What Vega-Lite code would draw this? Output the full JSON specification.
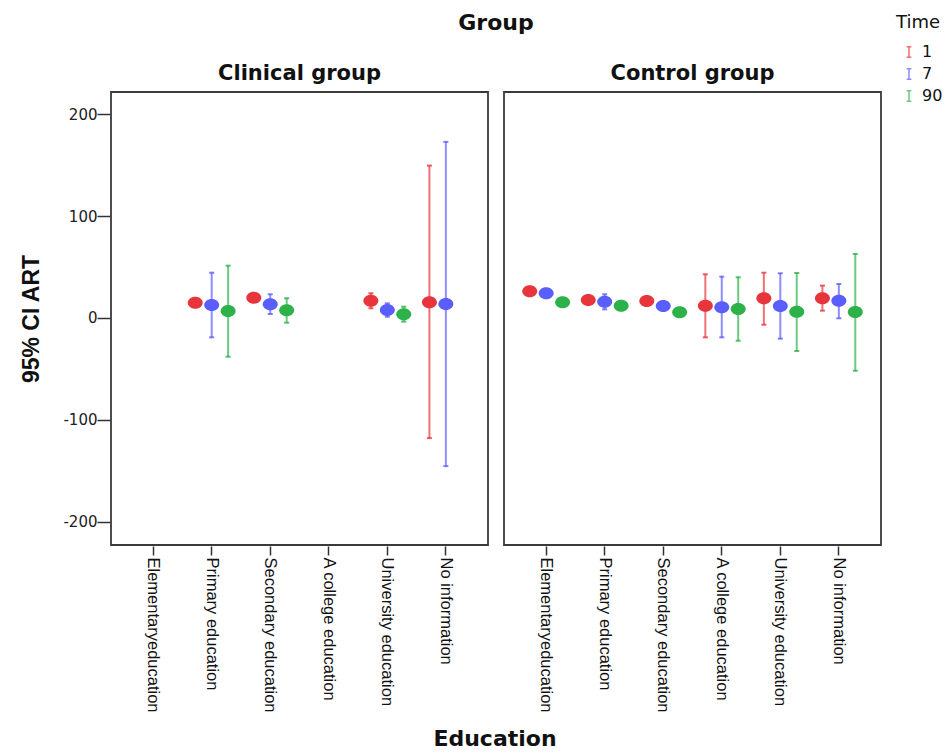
{
  "$schema": "https://vega.github.io/schema/vega-lite/v6.json",
  "padding": {"left": 20, "top": 12, "right": 2, "bottom": 2},
  "background": "white",
  "title": {
    "text": "Education",
    "orient": "bottom",
    "anchor": "middle",
    "frame": "group",
    "dx": 384,
    "font": "DejaVu Sans",
    "fontWeight": "bold",
    "fontSize": 22,
    "color": "#111",
    "offset": 17
  },
  "data": {
    "values": [
      {"Group": "Clinical group", "Education": "Primary education", "Time": "1", "mean": 15.0},
      {"Group": "Clinical group", "Education": "Primary education", "Time": "7", "mean": 12.8, "lo": -19.0, "hi": 44.5},
      {"Group": "Clinical group", "Education": "Primary education", "Time": "90", "mean": 6.9, "lo": -38.0, "hi": 51.4},
      {"Group": "Clinical group", "Education": "Secondary education", "Time": "1", "mean": 20.0},
      {"Group": "Clinical group", "Education": "Secondary education", "Time": "7", "mean": 13.4, "lo": 3.9, "hi": 23.3},
      {"Group": "Clinical group", "Education": "Secondary education", "Time": "90", "mean": 7.5, "lo": -4.6, "hi": 19.4},
      {"Group": "Clinical group", "Education": "University education", "Time": "1", "mean": 17.0, "lo": 9.5, "hi": 24.3},
      {"Group": "Clinical group", "Education": "University education", "Time": "7", "mean": 7.9, "lo": 1.3, "hi": 14.4},
      {"Group": "Clinical group", "Education": "University education", "Time": "90", "mean": 3.6, "lo": -3.6, "hi": 11.1},
      {"Group": "Clinical group", "Education": "No information", "Time": "1", "mean": 15.4, "lo": -118.0, "hi": 149.7},
      {"Group": "Clinical group", "Education": "No information", "Time": "7", "mean": 13.8, "lo": -145.5, "hi": 173.0},
      {"Group": "Control group", "Education": "Elementaryeducation", "Time": "1", "mean": 26.2},
      {"Group": "Control group", "Education": "Elementaryeducation", "Time": "7", "mean": 24.3},
      {"Group": "Control group", "Education": "Elementaryeducation", "Time": "90", "mean": 15.4},
      {"Group": "Control group", "Education": "Primary education", "Time": "1", "mean": 17.7},
      {"Group": "Control group", "Education": "Primary education", "Time": "7", "mean": 16.0, "lo": 8.5, "hi": 23.3},
      {"Group": "Control group", "Education": "Primary education", "Time": "90", "mean": 12.1},
      {"Group": "Control group", "Education": "Secondary education", "Time": "1", "mean": 16.7},
      {"Group": "Control group", "Education": "Secondary education", "Time": "7", "mean": 11.8},
      {"Group": "Control group", "Education": "Secondary education", "Time": "90", "mean": 5.6},
      {"Group": "Control group", "Education": "A college education", "Time": "1", "mean": 12.1, "lo": -19.0, "hi": 42.9},
      {"Group": "Control group", "Education": "A college education", "Time": "7", "mean": 10.5, "lo": -19.0, "hi": 40.6},
      {"Group": "Control group", "Education": "A college education", "Time": "90", "mean": 8.8, "lo": -22.3, "hi": 40.0},
      {"Group": "Control group", "Education": "University education", "Time": "1", "mean": 19.3, "lo": -6.6, "hi": 44.5},
      {"Group": "Control group", "Education": "University education", "Time": "7", "mean": 11.8, "lo": -20.3, "hi": 43.9},
      {"Group": "Control group", "Education": "University education", "Time": "90", "mean": 6.2, "lo": -32.4, "hi": 44.2},
      {"Group": "Control group", "Education": "No information", "Time": "1", "mean": 19.3, "lo": 7.2, "hi": 31.8},
      {"Group": "Control group", "Education": "No information", "Time": "7", "mean": 17.0, "lo": -0.3, "hi": 33.4},
      {"Group": "Control group", "Education": "No information", "Time": "90", "mean": 5.9, "lo": -51.8, "hi": 62.9}
    ]
  },
  "facet": {
    "column": {
      "field": "Group",
      "type": "nominal",
      "title": "Group",
      "header": {
        "titleFont": "DejaVu Sans",
        "titleFontWeight": "bold",
        "titleFontSize": 22,
        "titleColor": "#111",
        "titlePadding": 18,
        "labelFont": "DejaVu Sans",
        "labelFontWeight": "bold",
        "labelFontSize": 21,
        "labelColor": "#111",
        "labelPadding": 7
      }
    }
  },
  "spacing": 14,
  "spec": {
    "width": 377,
    "height": 453,
    "encoding": {
      "x": {
        "field": "Education",
        "type": "nominal",
        "sort": ["Elementaryeducation", "Primary education", "Secondary education", "A college education", "University education", "No information"],
        "scale": {"paddingInner": 0, "paddingOuter": 0.22},
        "title": null,
        "axis": {
          "labelAngle": 90,
          "labelFont": "Liberation Sans",
          "labelFontSize": 16.5,
          "labelColor": "#111",
          "labelPadding": 2,
          "labelBaseline": "middle",
          "tickSize": 9,
          "tickColor": "#333",
          "tickWidth": 1.5,
          "domain": false
        }
      },
      "xOffset": {
        "field": "Time",
        "type": "nominal",
        "scale": {"domain": ["1", "7", "90"], "paddingInner": 0, "paddingOuter": 0.28}
      },
      "color": {
        "field": "Time",
        "type": "nominal",
        "scale": {"domain": ["1", "7", "90"], "range": ["#e8353b", "#5b5eff", "#2db24a"]},
        "legend": {
          "title": "Time",
          "orient": "none",
          "legendX": 785,
          "legendY": -78,
          "titleFont": "DejaVu Sans",
          "titleFontWeight": "normal",
          "titleFontSize": 18,
          "titleColor": "#111",
          "titlePadding": 12,
          "labelFont": "DejaVu Sans",
          "labelFontSize": 16,
          "labelColor": "#111",
          "labelOffset": 5,
          "symbolOffset": 5,
          "symbolType": "M-0.45,-1H0.45M0,-1V1M-0.45,1H0.45",
          "symbolSize": 110,
          "symbolStrokeWidth": 1.5,
          "rowPadding": 4,
          "encode": {
            "symbols": {
              "update": {
                "stroke": {"scale": "color", "field": "value"},
                "fill": {"value": "transparent"},
                "opacity": {"value": 0.75}
              }
            }
          }
        }
      }
    },
    "layer": [
      {
        "transform": [{"filter": "isValid(datum.lo)"}],
        "mark": {"type": "rule", "strokeWidth": 2, "opacity": 0.7},
        "encoding": {
          "y": {"field": "lo", "type": "quantitative"},
          "y2": {"field": "hi"}
        }
      },
      {
        "transform": [{"filter": "isValid(datum.lo)"}],
        "mark": {"type": "tick", "size": 5, "thickness": 2, "opacity": 0.8},
        "encoding": {
          "y": {"field": "lo", "type": "quantitative"}
        }
      },
      {
        "transform": [{"filter": "isValid(datum.hi)"}],
        "mark": {"type": "tick", "size": 5, "thickness": 2, "opacity": 0.8},
        "encoding": {
          "y": {"field": "hi", "type": "quantitative"}
        }
      },
      {
        "mark": {
          "type": "point",
          "filled": true,
          "opacity": 1,
          "size": 225,
          "shape": "M-1,0A1,0.8,0,1,1,1,0A1,0.8,0,1,1,-1,0Z"
        },
        "encoding": {
          "y": {
            "field": "mean",
            "type": "quantitative",
            "scale": {"domain": [-223, 222], "nice": false, "zero": false},
            "title": "95% CI ART",
            "axis": {
              "values": [-200, -100, 0, 100, 200],
              "labelExpr": "datum.value < 0 ? '-' + abs(datum.value) : '' + datum.value",
              "labelFont": "DejaVu Sans",
              "labelFontSize": 15,
              "labelColor": "#222",
              "labelPadding": 0,
              "tickSize": 13,
              "tickColor": "#333",
              "tickWidth": 1.5,
              "domain": false,
              "grid": false,
              "titleFont": "Liberation Sans",
              "titleFontWeight": "bold",
              "titleFontSize": 23,
              "titleColor": "#111",
              "titlePadding": 19
            }
          }
        }
      }
    ]
  },
  "config": {
    "view": {"stroke": "#3a3a3a", "strokeWidth": 1.8},
    "axis": {"grid": false}
  }
}
